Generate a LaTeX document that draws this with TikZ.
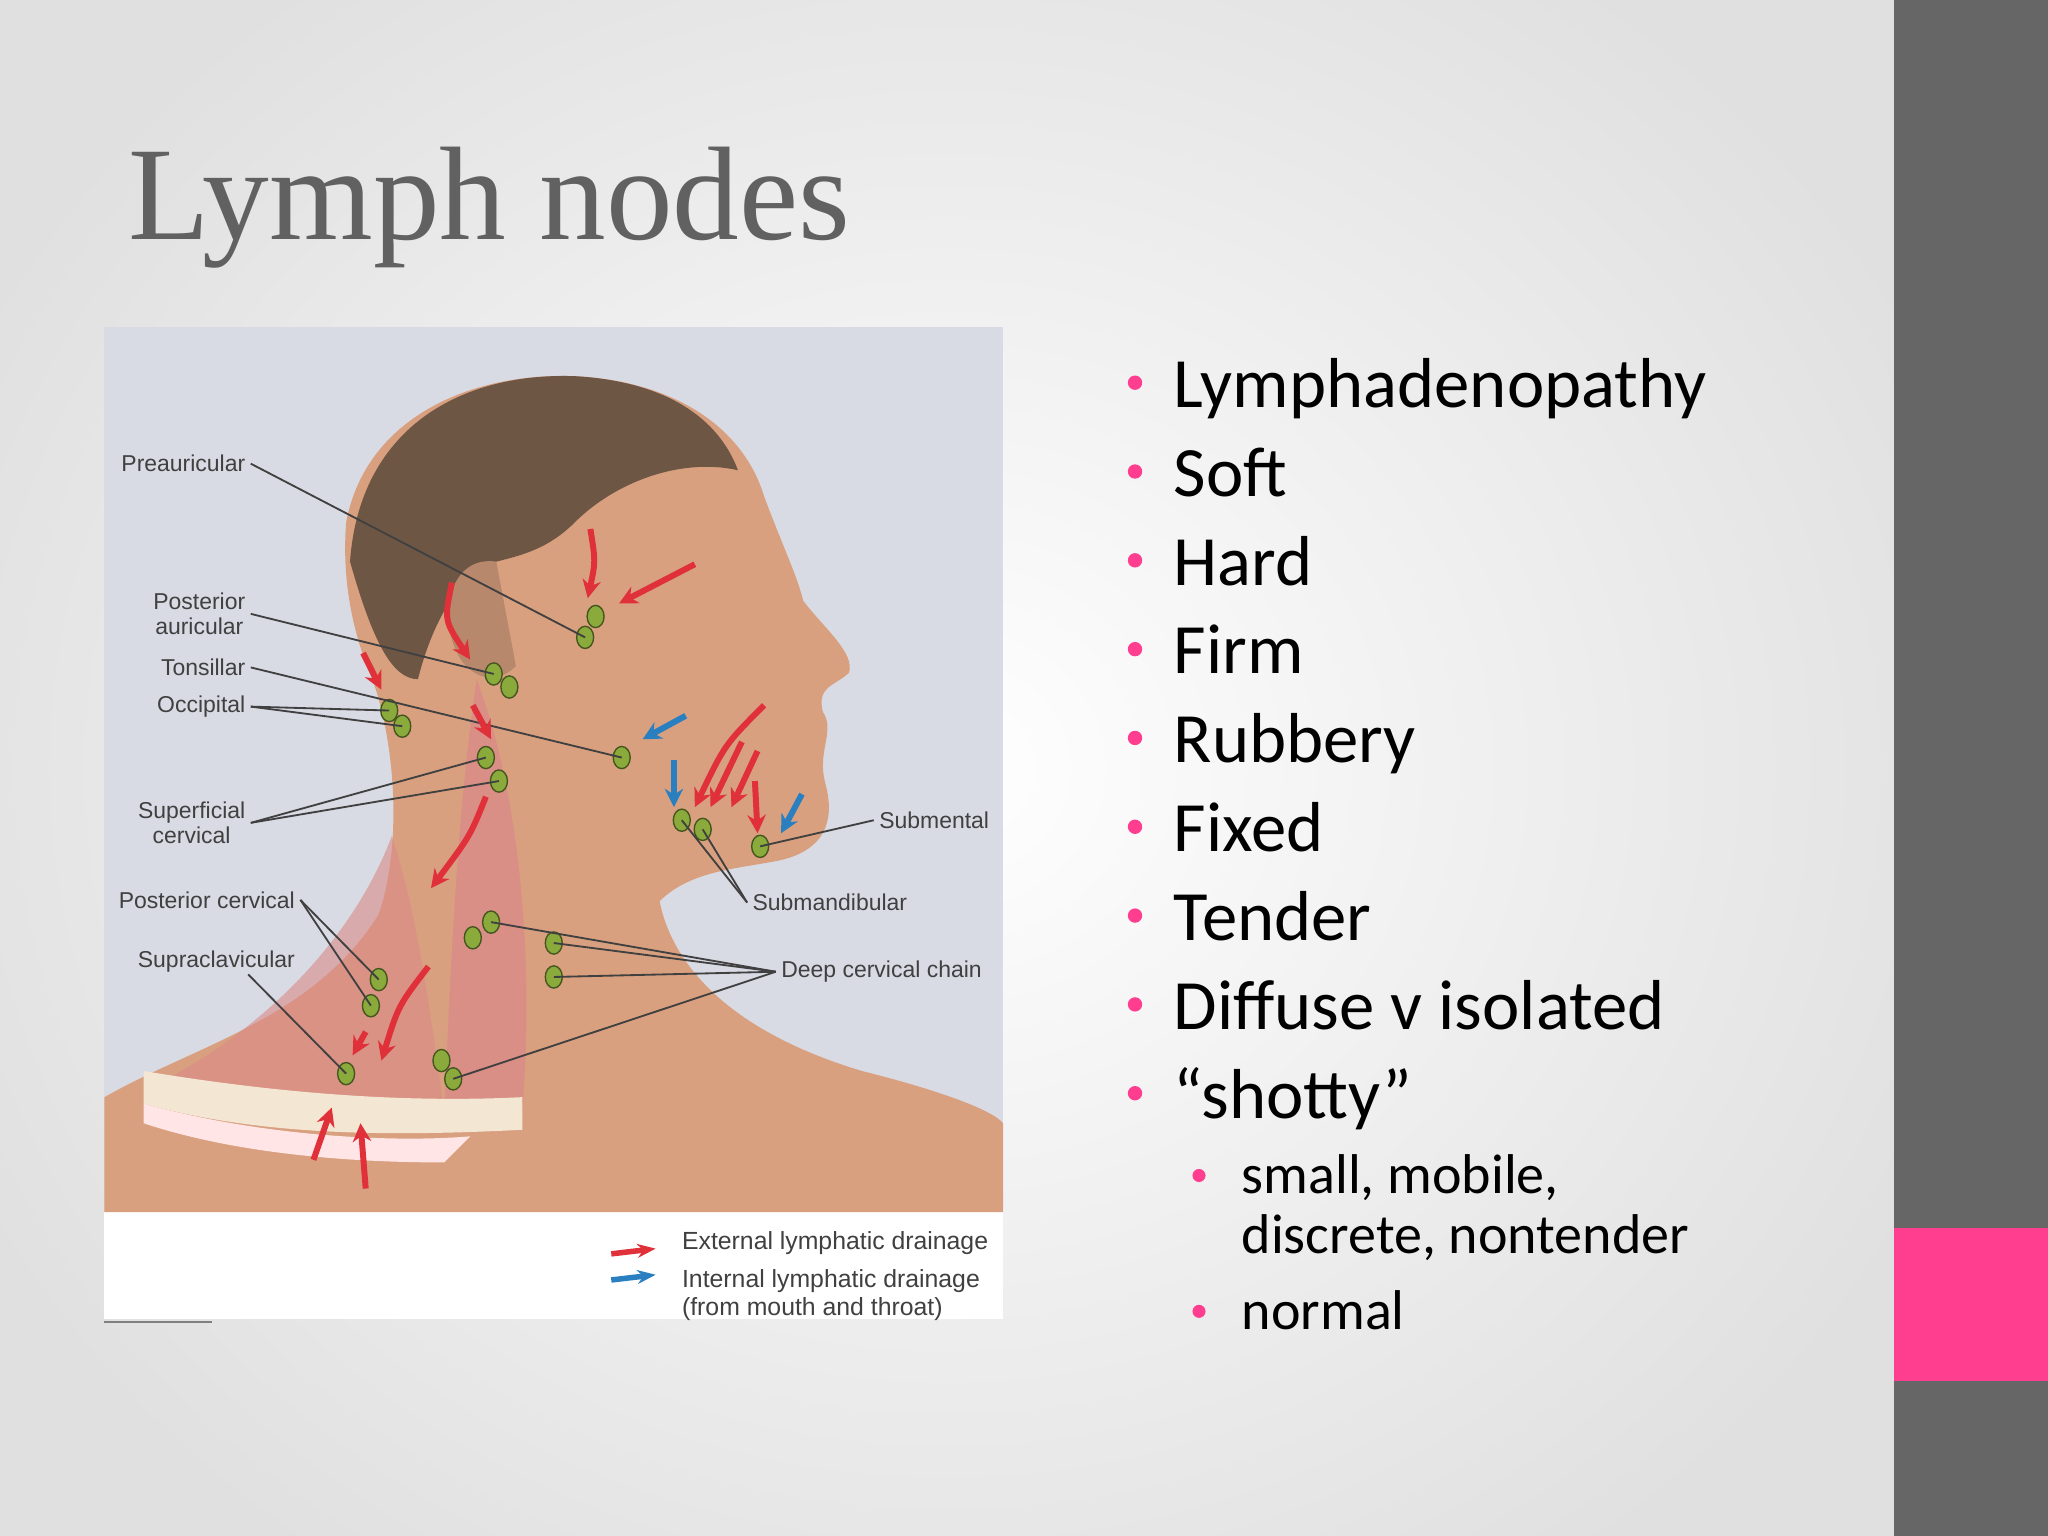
\documentclass[tikz,border=0pt]{standalone}
\usepackage{fontspec}
\setmainfont{Carlito}
\newfontfamily\titlefont{Liberation Serif}
\newfontfamily\lblfont{Liberation Sans}
\usetikzlibrary{arrows.meta,shapes.geometric}
\definecolor{pinkc}{HTML}{FF3E8F}
\definecolor{barg}{HTML}{666666}
\definecolor{skin}{HTML}{D9A07F}
\definecolor{hair}{HTML}{6E5645}
\definecolor{muscle}{HTML}{D98A88}
\definecolor{lnode}{HTML}{8AAA3C}
\definecolor{redarr}{HTML}{E0303A}
\definecolor{bluearr}{HTML}{2A7FC0}
\definecolor{picbg}{HTML}{D8DBE4}
\definecolor{clav}{HTML}{F3E6D2}
\begin{document}
\begin{tikzpicture}[x=0.01cm,y=-0.01cm,
  lbl/.style={font=\lblfont\fontsize{5pt}{5.6pt}\selectfont,text=black!75,align=center,inner sep=1pt},
  lead/.style={draw=black!75,line width=0.4pt},
  ln/.style={ellipse,draw=lnode!50!black,fill=lnode,minimum width=0.13cm,minimum height=0.17cm,inner sep=0pt,line width=0.3pt},
  rarr/.style={draw=redarr,line width=1.3pt,-{Stealth[length=4pt,width=4pt]}},
  barr/.style={draw=bluearr,line width=1.3pt,-{Stealth[length=4pt,width=4pt]}},
  bul/.style={font=\fontsize{15.4pt}{18pt}\selectfont,anchor=base west,inner sep=0pt},
  sbul/.style={font=\fontsize{12.2pt}{14pt}\selectfont,anchor=base west,inner sep=0pt},
  dot/.style={circle,fill=pinkc,inner sep=0pt,minimum size=#1}]
\useasboundingbox (0,0) rectangle (1568,1176);
\fill[black!12] (0,0) rectangle (1450,1176);
\shade[inner color=white,outer color=black!12] (-100,-150) rectangle (1550,1326);
\fill[barg] (1450,0) rectangle (1568,1176);
\fill[pinkc] (1450,940) rectangle (1568,1057);
\node[anchor=base west,inner sep=0pt,text=black!62,font=\titlefont\fontsize{29pt}{34pt}\selectfont] (title) at (98,183) {Lymph nodes};
% picture
\fill[white] (80,928) rectangle (768,1010);
\fill[picbg] (80,250) rectangle (768,928);
\fill[skin] (265,400) .. controls (280,320) and (360,285) .. (440,288)
  .. controls (520,292) and (570,330) .. (585,380) .. controls (600,420) and (610,440) .. (615,460)
  .. controls (630,480) and (655,500) .. (650,515) .. controls (640,525) and (625,525) .. (630,545)
  .. controls (640,560) and (625,575) .. (632,600) .. controls (640,630) and (630,650) .. (600,658)
  .. controls (570,665) and (530,665) .. (505,690) .. controls (515,740) and (560,790) .. (660,820)
  .. controls (720,835) and (760,850) .. (768,860) -- (768,928) -- (80,928) -- (80,840)
  .. controls (150,800) and (240,780) .. (290,700) .. controls (310,640) and (300,560) .. (285,520)
  .. controls (268,480) and (262,440) .. (265,400) -- cycle;
\fill[hair] (268,430) .. controls (275,330) and (350,285) .. (440,288) .. controls (510,292) and (550,320) .. (565,360)
  .. controls (520,350) and (470,370) .. (440,400) .. controls (420,420) and (400,425) .. (380,430)
  .. controls (350,440) and (330,480) .. (320,520) .. controls (300,520) and (285,490) .. (268,430) -- cycle;
\fill[skin!85!black] (380,430) .. controls (345,425) and (335,470) .. (350,500) .. controls (360,520) and (380,525) .. (395,510) -- cycle;
\fill[muscle,opacity=0.8] (365,520) .. controls (395,600) and (410,720) .. (400,850) -- (340,855) .. controls (345,740) and (350,620) .. (365,520) -- cycle;
\fill[muscle,opacity=0.6] (300,640) .. controls (320,700) and (330,780) .. (340,850) -- (120,830) .. controls (200,790) and (270,720) .. (300,640) -- cycle;
\fill[clav] (110,820) .. controls (200,835) and (300,845) .. (400,840) -- (400,865) .. controls (300,870) and (200,870) .. (110,845) -- cycle;
\fill[pink!40] (110,845) .. controls (200,870) and (300,875) .. (360,870) -- (340,890) .. controls (250,890) and (170,880) .. (110,860) -- cycle;
% lymph nodes
\node[ln] (pa1) at (448,488) {}; \node[ln] (pa2) at (456,472) {};
\node[ln] (pau1) at (378,516) {}; \node[ln] (pau2) at (390,526) {};
\node[ln] (ton) at (476,580) {};
\node[ln] (oc1) at (298,544) {}; \node[ln] (oc2) at (308,556) {};
\node[ln] (sc1) at (372,580) {}; \node[ln] (sc2) at (382,598) {};
\node[ln] (pc1) at (290,750) {}; \node[ln] (pc2) at (284,770) {};
\node[ln] (sup) at (265,822) {};
\node[ln] (sm) at (582,648) {};
\node[ln] (sb1) at (522,628) {}; \node[ln] (sb2) at (538,635) {};
\node[ln] (dc1) at (362,718) {}; \node[ln] (dc2) at (376,706) {};
\node[ln] (dc3) at (424,722) {}; \node[ln] (dc4) at (424,748) {};
\node[ln] (dc5) at (338,812) {}; \node[ln] (dc6) at (347,826) {};
% labels
\node[lbl,anchor=east] (Lpre) at (192,355) {Preauricular};
\node[lbl,anchor=east] (Lpau) at (192,470) {Posterior\\auricular};
\node[lbl,anchor=east] (Lton) at (192,511) {Tonsillar};
\node[lbl,anchor=east] (Loc) at (192,541) {Occipital};
\node[lbl,anchor=east] (Lsc) at (192,630) {Superficial\\cervical};
\node[lbl,anchor=east] (Lpc) at (230,689) {Posterior cervical};
\node[lbl,anchor=east] (Lsup) at (230,736) {Supraclavicular};
\node[lbl,anchor=west] (Lsm) at (669,628) {Submental};
\node[lbl,anchor=west] (Lsb) at (572,691) {Submandibular};
\node[lbl,anchor=west] (Ldc) at (594,744) {Deep cervical chain};
\draw[lead] (Lpre.east) -- (pa1.center);
\draw[lead] (Lpau.east) -- (pau1.center);
\draw[lead] (Lton.east) -- (ton.center);
\draw[lead] (Loc.east) -- (oc1.center); \draw[lead] (Loc.east) -- (oc2.center);
\draw[lead] (Lsc.east) -- (sc1.center); \draw[lead] (Lsc.east) -- (sc2.center);
\draw[lead] (Lpc.east) -- (pc1.center); \draw[lead] (Lpc.east) -- (pc2.center);
\coordinate (s0) at (190,746);
\draw[lead] (s0) -- (sup.center);
\draw[lead] (Lsm.west) -- (sm.center);
\draw[lead] (Lsb.west) -- (sb1.center); \draw[lead] (Lsb.west) -- (sb2.center);
\draw[lead] (Ldc.west) -- (dc2.center); \draw[lead] (Ldc.west) -- (dc3.center);
\draw[lead] (Ldc.west) -- (dc4.center); \draw[lead] (Ldc.west) -- (dc6.center);
% arrows
\draw[rarr] (452,405) .. controls (456,430) .. (450,458);
\draw[rarr] (532,432) -- (474,462);
\draw[rarr] (346,446) .. controls (340,475) .. (360,505);
\draw[rarr] (278,500) -- (292,528);
\draw[rarr] (362,540) -- (376,566);
\draw[rarr] (372,610) .. controls (360,640) .. (330,680);
\draw[rarr] (280,790) -- (270,808);
\draw[rarr] (328,740) .. controls (305,770) .. (292,812);
\draw[rarr] (240,888) -- (254,848);
\draw[rarr] (280,910) -- (276,860);
\draw[rarr] (585,540) .. controls (555,570) .. (532,618);
\draw[rarr] (568,568) -- (544,618);
\draw[rarr] (580,575) -- (560,618);
\draw[rarr] (578,598) -- (580,638);
\draw[barr] (525,548) -- (492,566);
\draw[barr] (516,582) -- (516,618);
\draw[barr] (614,608) -- (598,638);
% legend
\coordinate (ra0) at (468,960); \coordinate (ra1) at (502,956);
\draw[draw=redarr,line width=1.2pt,-{Stealth[length=4pt]}] (ra0) -- (ra1);
\coordinate (ba0) at (468,980); \coordinate (ba1) at (502,976);
\draw[draw=bluearr,line width=1.2pt,-{Stealth[length=4pt]}] (ba0) -- (ba1);
\node[lbl,anchor=west,font=\lblfont\fontsize{5.4pt}{6pt}\selectfont] (leg1) at (518,952) {External lymphatic drainage};
\node[lbl,anchor=north west,align=left,font=\lblfont\fontsize{5.4pt}{6pt}\selectfont] (leg2) at (518,968) {Internal lymphatic drainage\\(from mouth and throat)};
\draw[black!50,line width=0.5pt] (80,1012) -- (162,1012);
% bullets
\foreach \t [count=\i from 0] in {Lymphadenopathy,Soft,Hard,Firm,Rubbery,Fixed,Tender,Diffuse v isolated,“shotty”}{
  \node[dot=0.11cm] (bd\i) at (869,293+68*\i) {};
  \node[bul] (b\i) at (898,312+68*\i) {\t};
}
\node[dot=0.1cm] (sd1) at (918,900) {};
\node[sbul] (s1) at (950,914) {small, mobile,};
\node[sbul] (s1b) at (950,960) {discrete, nontender};
\node[dot=0.1cm] (sd2) at (918,1004) {};
\node[sbul] (s2) at (950,1018) {normal};
\end{tikzpicture}
\end{document}
